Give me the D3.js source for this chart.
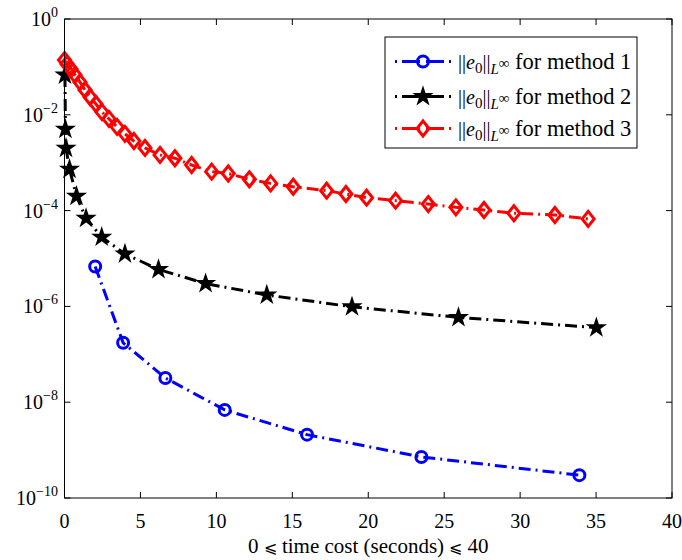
<!DOCTYPE html>
<html>
<head>
<meta charset="utf-8">
<script src="https://cdn.jsdelivr.net/npm/d3@7"></script>
<style>
  body { margin: 0; background: #fff; }
  text { font-family: "Liberation Serif", "Times New Roman", serif; fill: #000; }
</style>
</head>
<body>
<div id="chart"></div>
<script>
// data: time cost (s) and ||e0|| in L-infinity norm
var m1Time = [2.02, 3.86, 6.64, 10.55, 15.97, 23.5, 33.9];
var m1Err  = [6.8e-6, 1.74e-7, 3.2e-8, 6.9e-9, 2.1e-9, 7.2e-10, 3.0e-10];

var m2Time = [0.03, 0.06, 0.1, 0.33, 0.79, 1.42, 2.45, 3.98, 6.19, 9.29, 13.32, 18.93, 25.94, 35.02];
var m2Err  = [0.068, 5.0e-3, 2.0e-3, 7.3e-4, 2.0e-4, 6.9e-5, 2.8e-5, 1.25e-5, 5.9e-6, 3.0e-6, 1.73e-6, 9.8e-7, 5.9e-7, 3.6e-7];

var m3Time = [0.0, 0.16, 0.43, 0.69, 1.02, 1.35, 1.68, 2.07, 2.47, 2.93, 3.46, 3.98, 4.57, 5.30, 6.29, 7.27,
              8.37, 9.69, 10.78, 12.17, 13.57, 15.06, 17.26, 18.53, 19.89, 21.80, 23.95, 25.77, 27.62, 29.59, 32.29, 34.48];
var m3Err  = [0.139, 0.115, 0.090, 0.068, 0.048, 0.033, 0.0235, 0.0168, 0.0114, 0.0082, 0.0056, 0.0040, 0.00284, 0.00203, 0.00145, 0.00124,
              8.95e-4, 6.5e-4, 5.95e-4, 4.5e-4, 3.7e-4, 3.15e-4, 2.6e-4, 2.22e-4, 1.86e-4, 1.61e-4, 1.37e-4, 1.17e-4, 1.03e-4, 8.8e-5, 8.1e-5, 6.7e-5];

var xTicks = [0, 5, 10, 15, 20, 25, 30, 35, 40];
var yTickExp = [0, -2, -4, -6, -8, -10];
var seriesNames = ["method 1", "method 2", "method 3"];

var width = 682,
  height = 560,
  box = { left: 64.5, right: 672, top: 19, bottom: 498 };

var x = d3.scaleLinear().domain([0, 40]).range([box.left, box.right]);
var y = d3.scaleLog().domain([1e-10, 1]).range([box.bottom, box.top]);

var svg = d3.select('#chart')
  .append('svg')
  .attr('width', width)
  .attr('height', height);

var dash = "12,5,2,5";

var series = [
  { time: m1Time, err: m1Err, color: "#0000ff", marker: "circle" },
  { time: m2Time, err: m2Err, color: "#000000", marker: "star" },
  { time: m3Time, err: m3Err, color: "#ff0000", marker: "diamond" }
];

var starPath = d3.symbol().type(d3.symbolStar).size(140)();
var diamondPath = "M0,-7.5L6,0L0,7.5L-6,0Z";

function drawMarker(g, marker, color) {
  if (marker == "circle") {
    g.append("circle").attr("r", 5.5)
      .attr("fill", "none").attr("stroke", color).attr("stroke-width", 3);
  } else if (marker == "star") {
    g.append("path").attr("d", starPath).attr("fill", color);
  } else {
    g.append("path").attr("d", diamondPath)
      .attr("fill", "none").attr("stroke", color).attr("stroke-width", 3);
  }
}

var line = d3.line()
  .x(function(d) { return x(d[0]); })
  .y(function(d) { return y(d[1]); });

var plot = svg.append("g");

series.forEach(function(s) {
  var pts = s.time.map(function(t, i) { return [t, s.err[i]]; });
  plot.append("path")
    .datum(pts)
    .attr("d", line)
    .attr("fill", "none")
    .attr("stroke", s.color)
    .attr("stroke-width", 3)
    .attr("stroke-dasharray", dash);
  pts.forEach(function(p) {
    var g = plot.append("g")
      .attr("transform", "translate(" + x(p[0]) + "," + y(p[1]) + ")");
    drawMarker(g, s.marker, s.color);
  });
});

// axes box
svg.append("rect")
  .attr("x", box.left).attr("y", box.top)
  .attr("width", box.right - box.left).attr("height", box.bottom - box.top)
  .attr("fill", "none").attr("stroke", "#000").attr("stroke-width", 1);

var tickLen = 6;

// x ticks (inward, bottom and top) and labels
xTicks.forEach(function(t) {
  var px = x(t);
  svg.append("line").attr("x1", px).attr("x2", px)
    .attr("y1", box.bottom).attr("y2", box.bottom - tickLen).attr("stroke", "#000");
  svg.append("line").attr("x1", px).attr("x2", px)
    .attr("y1", box.top).attr("y2", box.top + tickLen).attr("stroke", "#000");
  svg.append("text")
    .attr("x", px).attr("y", 528)
    .attr("text-anchor", "middle")
    .style("font-size", "20px")
    .text(t);
});

// y ticks and labels 10^k
yTickExp.forEach(function(e) {
  var py = y(Math.pow(10, e));
  svg.append("line").attr("x1", box.left).attr("x2", box.left + tickLen)
    .attr("y1", py).attr("y2", py).attr("stroke", "#000");
  svg.append("line").attr("x1", box.right).attr("x2", box.right - tickLen)
    .attr("y1", py).attr("y2", py).attr("stroke", "#000");
  var lab = svg.append("text")
    .attr("x", 58).attr("y", py + 7)
    .attr("text-anchor", "end")
    .style("font-size", "20px");
  lab.append("tspan").text("10");
  lab.append("tspan").attr("dy", -9).style("font-size", "14px")
    .text(e == 0 ? "0" : "\u2212" + (-e));
});

// x axis title
svg.append("text")
  .attr("x", (box.left + box.right) / 2).attr("y", 553)
  .attr("text-anchor", "middle")
  .style("font-size", "21px")
  .html('0 <tspan style="font-family:\'DejaVu Serif\'; font-size:16px">\u2A7D</tspan> time cost (seconds) <tspan style="font-family:\'DejaVu Serif\'; font-size:16px">\u2A7D</tspan> 40');

// legend
var legend = svg.append("g");
legend.append("rect")
  .attr("x", 385).attr("y", 37)
  .attr("width", 252).attr("height", 111)
  .attr("fill", "#fff").attr("stroke", "#000").attr("stroke-width", 1);

var legendY = [61.5, 96.5, 128.5];
series.forEach(function(s, i) {
  var ly = legendY[i];
  legend.append("line")
    .attr("x1", 395).attr("x2", 451)
    .attr("y1", ly).attr("y2", ly)
    .attr("stroke", s.color).attr("stroke-width", 3)
    .attr("stroke-dasharray", "2,5,18,6,18,5,2");
  var g = legend.append("g").attr("transform", "translate(423," + ly + ")");
  drawMarker(g, s.marker, s.color);

  var t = legend.append("text")
    .attr("x", 458).attr("y", ly + 7)
    .style("font-size", "22.5px");
  t.append("tspan").style("font-size", "20px").text("||");
  t.append("tspan").style("font-style", "italic").style("font-size", "20px").text("e");
  t.append("tspan").attr("dy", 4).style("font-size", "15px").text("0");
  t.append("tspan").attr("dy", -4).style("font-size", "20px").text("||");
  t.append("tspan").attr("dy", 5).style("font-style", "italic").style("font-size", "15px").text("L");
  t.append("tspan").attr("dy", -6).style("font-size", "15px").text("\u221E");
  t.append("tspan").attr("dy", 1).text(" for " + seriesNames[i]);
});
</script>
</body>
</html>
